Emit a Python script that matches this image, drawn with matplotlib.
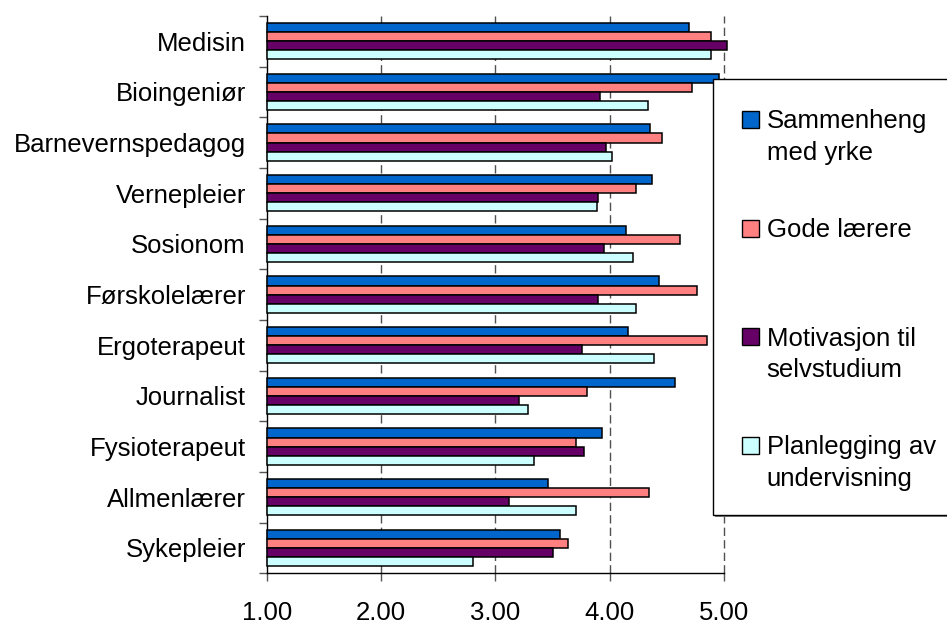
import matplotlib.pyplot as plt
from matplotlib.patches import Rectangle

plt.rcParams['font.family'] = ['Liberation Sans', 'DejaVu Sans']

# Study programmes, top to bottom
programmes = ['Medisin', 'Bioingeniør', 'Barnevernspedagog', 'Vernepleier',
              'Sosionom', 'Førskolelærer', 'Ergoterapeut', 'Journalist',
              'Fysioterapeut', 'Allmenlærer', 'Sykepleier']

series_names = ['Sammenheng\nmed yrke', 'Gode lærere',
                'Motivasjon til\nselvstudium', 'Planlegging av\nundervisning']
series_colors = ['#0066CC', '#FF8080', '#660066', '#CCFFFF']

sammenheng = [4.69, 4.95, 4.35, 4.37, 4.14, 4.43, 4.16, 4.57, 3.93, 3.46, 3.56]
gode_laerere = [4.88, 4.72, 4.46, 4.23, 4.61, 4.76, 4.85, 3.80, 3.70, 4.34, 3.63]
motivasjon = [5.02, 3.91, 3.97, 3.90, 3.95, 3.90, 3.76, 3.21, 3.77, 3.12, 3.50]
planlegging = [4.88, 4.33, 4.02, 3.89, 4.20, 4.23, 4.39, 3.28, 3.34, 3.70, 2.80]

x_ticks = [1.0, 2.0, 3.0, 4.0, 5.0]

series = [sammenheng, gode_laerere, motivasjon, planlegging]
FS = 18.5

fig = plt.figure(figsize=(9.47, 6.25), dpi=100)
ax = fig.add_axes([0.2816, 0.0827, 0.4832, 0.8919])

n = len(programmes)
bar_h = 0.179
for k, (vals, col) in enumerate(zip(series, series_colors)):
    offs = (k - 1.5) * bar_h
    ys = [i + offs for i in range(n)]
    widths = [v - 1.0 for v in vals]
    ax.barh(ys, widths, left=1.0, height=bar_h, color=col,
            edgecolor='black', linewidth=1.1, zorder=3, clip_on=False)

ax.set_xlim(1, 5)
ax.set_ylim(n - 0.5, -0.5)

ax.set_xticks(x_ticks)
ax.set_xticklabels([f'{t:.2f}' for t in x_ticks])
ax.tick_params(axis='x', length=6, width=1, direction='out', pad=14,
               labelsize=FS, color='#555555')

ax.set_yticks(range(n))
ax.set_yticklabels(programmes)
ax.tick_params(axis='y', which='major', length=0, pad=15, labelsize=FS)
ax.set_yticks([i - 0.5 for i in range(n + 1)], minor=True)
ax.tick_params(axis='y', which='minor', length=6, width=1, direction='out',
               color='#555555')

for sp in ['top', 'right']:
    ax.spines[sp].set_visible(False)
ax.spines['left'].set_linewidth(1)
ax.spines['bottom'].set_linewidth(1)

for t in x_ticks[1:]:
    ax.axvline(t, color='#505050', linewidth=1, linestyle=(0, (6, 3)),
               zorder=1, clip_on=False)

# Legend panel drawn in figure pixels
W, H = 947.0, 625.0


def fx(px):
    return px / W


def fy(py):
    return 1 - py / H


box_l, box_t, box_b = 713.3, 79.3, 515.3
fig.patches.append(Rectangle((fx(box_l + 2), fy(box_b + 2)), fx(960 - box_l),
                             fy(box_t) - fy(box_b), transform=fig.transFigure,
                             facecolor='#808080', edgecolor='none', zorder=5))
fig.patches.append(Rectangle((fx(box_l), fy(box_b)), fx(960 - box_l),
                             fy(box_t) - fy(box_b), transform=fig.transFigure,
                             facecolor='white', edgecolor='black', linewidth=1,
                             zorder=6))

entry_y = [119.3, 228.0, 336.7, 445.0]
for name, col, cy in zip(series_names, series_colors, entry_y):
    fig.patches.append(Rectangle((fx(741.7), fy(cy + 8.5)), fx(17), fy(0) - fy(17),
                                 transform=fig.transFigure, facecolor=col,
                                 edgecolor='black', linewidth=1, zorder=7))
    for j, line in enumerate(name.split('\n')):
        fig.text(fx(766.7), fy(cy + 9 + 31.7 * j), line, fontsize=FS,
                 va='baseline', ha='left', zorder=8)

fig.savefig('out.png', dpi=100)
